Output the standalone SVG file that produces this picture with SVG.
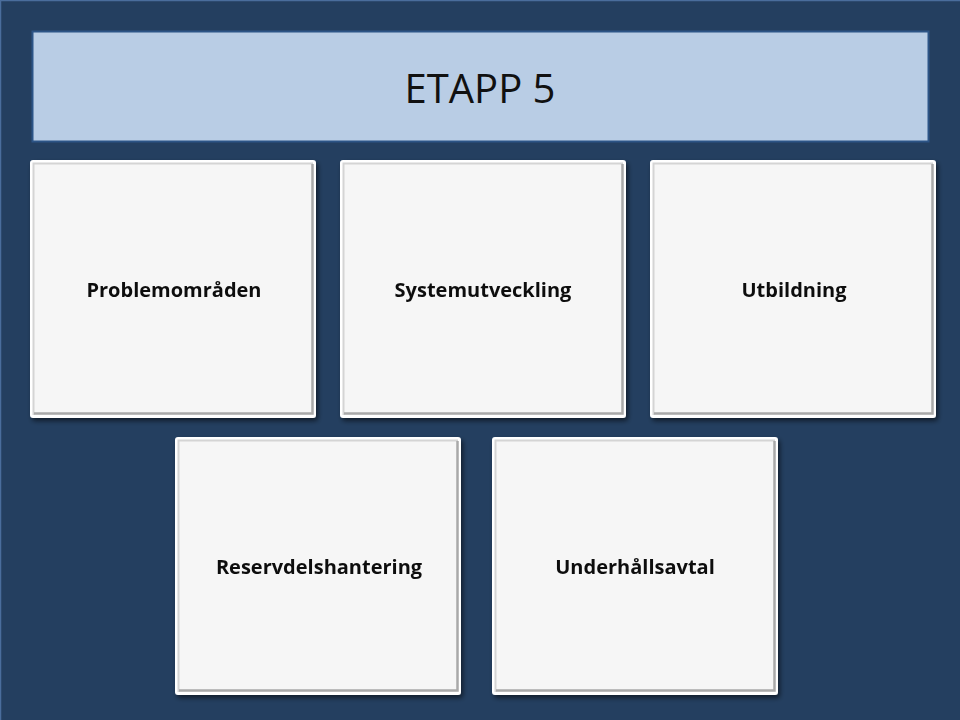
<svg xmlns="http://www.w3.org/2000/svg" width="960" height="720" viewBox="0 0 960 720">
<defs>
<filter id="sh" x="-10%" y="-10%" width="125%" height="125%">
<feGaussianBlur in="SourceAlpha" stdDeviation="2.5"/>
<feOffset dx="2" dy="3"/>
<feComponentTransfer><feFuncA type="linear" slope="0.55"/></feComponentTransfer>
<feMerge><feMergeNode/><feMergeNode in="SourceGraphic"/></feMerge>
</filter>
<g id="card">
<rect x="0" y="0" width="286" height="258" rx="3" fill="#ffffff"/>
<rect x="3" y="3" width="280" height="252" fill="#f6f6f6"/>
<path d="M3.5 255 V3.5 H283" fill="none" stroke="#d4d4d4" stroke-width="2"/>
<path d="M4 253.5 H282.5 V4" fill="none" stroke="#a9a9a9" stroke-width="2.5"/>
</g>
</defs>
<style>
.lbl{font-family:"Open Sans","Liberation Sans",sans-serif;font-weight:bold;font-size:20px;fill:#111;text-anchor:middle}
.title{font-family:"Open Sans","Liberation Sans",sans-serif;font-size:40px;fill:#111;text-anchor:middle}
</style>
<rect x="0" y="0" width="960" height="720" fill="#243f60"/>
<path d="M0.5 720 V0.5 H960" fill="none" stroke="#4a6d9c" stroke-width="1.5"/>
<g id="title">
<rect x="32.5" y="31.5" width="896" height="110" fill="#b9cde5" stroke="#2c5486" stroke-width="2"/>
<text class="title" x="480" y="103">ETAPP 5</text>
</g>
<g id="n1" filter="url(#sh)"><use href="#card" x="30" y="160"/><text class="lbl" x="174" y="297">Problemområden</text></g>
<g id="n2" filter="url(#sh)"><use href="#card" x="340" y="160"/><text class="lbl" x="483" y="297">Systemutveckling</text></g>
<g id="n3" filter="url(#sh)"><use href="#card" x="650" y="160"/><text class="lbl" x="794" y="297">Utbildning</text></g>
<g id="n4" filter="url(#sh)"><use href="#card" x="175" y="437"/><text class="lbl" x="319" y="574">Reservdelshantering</text></g>
<g id="n5" filter="url(#sh)"><use href="#card" x="492" y="437"/><text class="lbl" x="635" y="574">Underhållsavtal</text></g>
<g id="connectors"></g>
</svg>
